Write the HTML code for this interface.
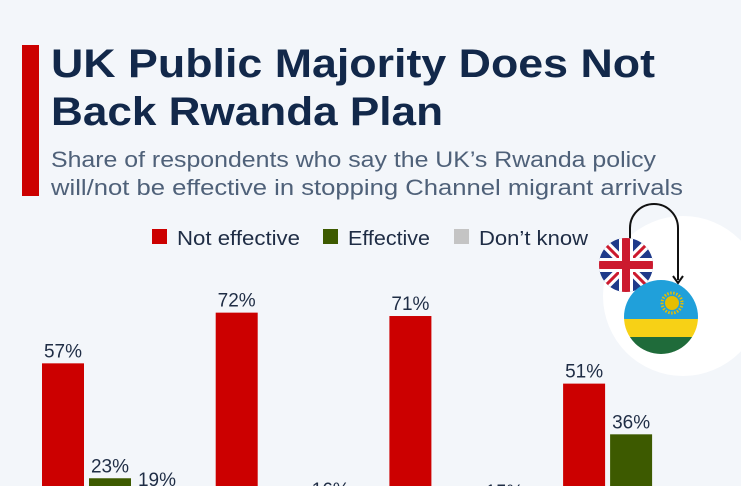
<!DOCTYPE html>
<html><head><meta charset="utf-8"><style>
html,body{margin:0;padding:0;background:#f3f6fa;width:741px;height:486px;overflow:hidden;}
svg{display:block;font-family:"Liberation Sans",sans-serif;overflow:hidden;}
</style></head><body>
<svg id="chart" width="741" height="486" viewBox="0 0 741 486">
<rect width="741" height="486" fill="#f3f6fa"/>
<rect x="22" y="45" width="17" height="151" fill="#cc0000"/>
<text x="51" y="77" font-size="40" font-weight="bold" fill="#12284a" textLength="604" lengthAdjust="spacingAndGlyphs">UK Public Majority Does Not</text>
<text x="51" y="125" font-size="40" font-weight="bold" fill="#12284a" textLength="392" lengthAdjust="spacingAndGlyphs">Back Rwanda Plan</text>
<text x="51" y="167" font-size="22" fill="#4f6179" textLength="605" lengthAdjust="spacingAndGlyphs">Share of respondents who say the UK’s Rwanda policy</text>
<text x="51" y="195" font-size="22" fill="#4f6179" textLength="632" lengthAdjust="spacingAndGlyphs">will/not be effective in stopping Channel migrant arrivals</text>
<g>
<rect x="152" y="229" width="15" height="15" fill="#cc0000"/>
<text x="177" y="245" font-size="20" fill="#1f2d45" textLength="123" lengthAdjust="spacingAndGlyphs">Not effective</text>
<rect x="323" y="229" width="15" height="15" fill="#3d5a00"/>
<text x="348" y="245" font-size="20" fill="#1f2d45" textLength="82" lengthAdjust="spacingAndGlyphs">Effective</text>
<rect x="454" y="229" width="15" height="15" fill="#c4c4c4"/>
<text x="479" y="245" font-size="20" fill="#1f2d45" textLength="109" lengthAdjust="spacingAndGlyphs">Don’t know</text>
</g>
<g>
<circle cx="683" cy="296" r="80" fill="#ffffff"/>
<path d="M630 240 V228 A24 24 0 0 1 678 228 V280" fill="none" stroke="#111" stroke-width="2"/>
<path d="M673 276 L678 283 L683 276" fill="none" stroke="#111" stroke-width="2"/>
<clipPath id="ukc"><circle cx="626" cy="265" r="27"/></clipPath>
<g clip-path="url(#ukc)">
<rect x="599" y="238" width="54" height="54" fill="#1f3a8a"/>
<path d="M599 238 L653 292 M653 238 L599 292" stroke="#fff" stroke-width="9"/>
<path d="M599 238 L653 292 M653 238 L599 292" stroke="#cc1a2e" stroke-width="3"/>
<rect x="599" y="258" width="54" height="14" fill="#fff"/>
<rect x="619" y="238" width="14" height="54" fill="#fff"/>
<rect x="599" y="261" width="54" height="8" fill="#cc1a2e"/>
<rect x="622" y="238" width="8" height="54" fill="#cc1a2e"/>
</g>
<clipPath id="rwc"><circle cx="661" cy="317" r="37"/></clipPath>
<g clip-path="url(#rwc)">
<rect x="620" y="280" width="82" height="39" fill="#20a0da"/>
<rect x="620" y="319" width="82" height="18" fill="#f7d116"/>
<rect x="620" y="337" width="82" height="20" fill="#1f6b3a"/>
<circle cx="672" cy="303" r="7" fill="#e5be01"/>
<circle cx="672" cy="303" r="10" fill="none" stroke="#e5be01" stroke-width="3" stroke-dasharray="1.5 1.5"/>
</g>
</g>
<g id="bars"></g>
</svg>
<script>
const categories = ["Group 1", "Group 2", "Group 3", "Group 4"];
const notEffective = [57, 72, 71, 51];
const effective = [23, 12, 13, 36];
const dontKnow = [19, 16, 15, 13];
const seriesColors = ["#cc0000", "#3d5a00", "#c4c4c4"];

const baseY = 556, pxPer = 3.38, frameBottom = 486;
function y(v){ return baseY - v * pxPer; }
function x(gi, si){ return 42 + gi * 173.7 + si * 47; }
const NS = "http://www.w3.org/2000/svg";
const g = document.getElementById("bars");
const seriesList = [notEffective, effective, dontKnow];
const seriesNames = ["not-effective", "effective", "dont-know"];
categories.forEach((c, gi) => {
  seriesList.forEach((s, si) => {
    const v = s[gi];
    const top = y(v);
    const h = Math.max(0, Math.min(baseY, frameBottom) - top);
    if (h > 0) {
      const r = document.createElementNS(NS, "rect");
      r.setAttribute("x", x(gi, si));
      r.setAttribute("y", top);
      r.setAttribute("width", 42);
      r.setAttribute("height", h);
      r.setAttribute("fill", seriesColors[si]);
      
      
      g.appendChild(r);
    }
    const ly = top - 6;
    if (ly - 14 < frameBottom) {
      const t = document.createElementNS(NS, "text");
      t.setAttribute("x", x(gi, si) + 21);
      t.setAttribute("y", Math.min(ly, frameBottom + 12));
      t.setAttribute("text-anchor", "middle");
      t.setAttribute("font-size", "19");
      t.setAttribute("fill", "#1f2d45");
      t.textContent = v + "%";
      
      
      g.appendChild(t);
    }
  });
});
</script>
</body></html>
